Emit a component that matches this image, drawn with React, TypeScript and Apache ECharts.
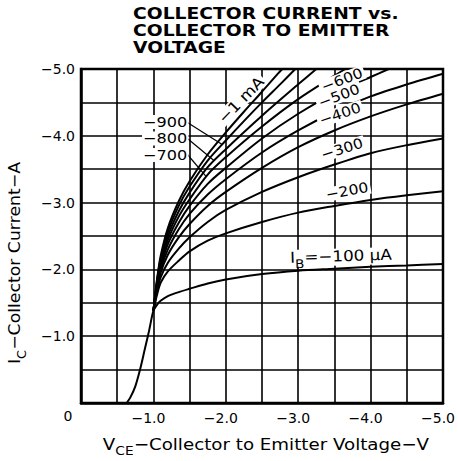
import React, { useEffect, useRef } from 'react';
import * as echarts from 'echarts';

// Title and axis texts
const titleLines = ['COLLECTOR CURRENT vs.', 'COLLECTOR TO EMITTER', 'VOLTAGE'];
const xTitle = { main: 'V', sub: 'CE', rest: '−Collector to Emitter Voltage−V' };
const yTitle = { main: 'I', sub: 'C', rest: '−Collector Current−A' };
const originLabel = '0';

// Axis ranges (volts / amperes, negative values)
const vMin = -5;
const iMin = -5;
const gridStep = 0.5;

// Collector characteristics: [V_CE, I_C]
const toe: number[][] = [[-0.63, 0], [-0.68, -0.08], [-0.75, -0.25], [-0.82, -0.52], [-0.88, -0.8], [-0.94, -1.08], [-1.0, -1.38]];
const ib100: number[][] = [[-1.0, -1.38], [-1.05, -1.47], [-1.1, -1.53], [-1.2, -1.6], [-1.35, -1.66], [-1.5, -1.71], [-1.75, -1.79], [-2.0, -1.85], [-2.5, -1.93], [-3.0, -1.98], [-3.5, -2.01], [-4.0, -2.04], [-4.5, -2.06], [-5.0, -2.08]];
const ib200: number[][] = [[-1.0, -1.38], [-1.05, -1.62], [-1.1, -1.8], [-1.2, -1.97], [-1.35, -2.13], [-1.5, -2.27], [-1.75, -2.43], [-2.0, -2.54], [-2.5, -2.71], [-3.0, -2.85], [-3.5, -2.95], [-4.0, -3.04], [-4.5, -3.11], [-5.0, -3.17]];
const ib300: number[][] = [[-1.0, -1.38], [-1.05, -1.67], [-1.1, -1.88], [-1.2, -2.1], [-1.35, -2.31], [-1.5, -2.48], [-1.75, -2.71], [-2.0, -2.89], [-2.5, -3.16], [-3.0, -3.38], [-3.5, -3.57], [-4.0, -3.74], [-4.5, -3.86], [-5.0, -3.96]];
const ib400: number[][] = [[-1.0, -1.38], [-1.05, -1.71], [-1.1, -1.95], [-1.2, -2.22], [-1.35, -2.48], [-1.5, -2.68], [-1.75, -2.95], [-2.0, -3.16], [-2.5, -3.52], [-3.0, -3.83], [-3.5, -4.08], [-4.0, -4.29], [-4.5, -4.47], [-5.0, -4.63]];
const ib500: number[][] = [[-1.0, -1.38], [-1.05, -1.74], [-1.1, -2.0], [-1.2, -2.3], [-1.35, -2.6], [-1.5, -2.83], [-1.75, -3.12], [-2.0, -3.35], [-2.5, -3.75], [-3.0, -4.08], [-3.5, -4.36], [-4.0, -4.59], [-4.5, -4.77], [-5.0, -4.93]];
const ib600: number[][] = [[-1.0, -1.38], [-1.05, -1.77], [-1.1, -2.04], [-1.2, -2.38], [-1.35, -2.7], [-1.5, -2.95], [-1.75, -3.28], [-2.0, -3.52], [-2.5, -3.96], [-3.0, -4.33], [-3.5, -4.64], [-4.0, -4.88], [-4.25, -5.0]];
const ib700: number[][] = [[-1.0, -1.38], [-1.05, -1.79], [-1.1, -2.08], [-1.2, -2.44], [-1.35, -2.79], [-1.5, -3.05], [-1.75, -3.42], [-2.0, -3.68], [-2.5, -4.14], [-3.0, -4.55], [-3.5, -4.9], [-3.65, -5.0]];
const ib800: number[][] = [[-1.0, -1.38], [-1.05, -1.81], [-1.1, -2.12], [-1.2, -2.5], [-1.35, -2.87], [-1.5, -3.15], [-1.75, -3.53], [-2.0, -3.8], [-2.5, -4.3], [-3.0, -4.77], [-3.25, -5.0]];
const ib900: number[][] = [[-1.0, -1.38], [-1.05, -1.83], [-1.1, -2.16], [-1.2, -2.56], [-1.35, -2.95], [-1.5, -3.24], [-1.75, -3.63], [-2.0, -3.93], [-2.25, -4.22], [-2.5, -4.5], [-2.75, -4.77], [-2.96, -5.0]];
const ib1000: number[][] = [[-1.0, -1.38], [-1.05, -1.85], [-1.1, -2.2], [-1.2, -2.62], [-1.35, -3.02], [-1.5, -3.32], [-1.75, -3.72], [-2.0, -4.05], [-2.25, -4.36], [-2.5, -4.66], [-2.72, -4.93], [-2.78, -5.0]];

// Curve labels
const curveLabelTexts = ['−1 mA', '−600', '−500', '−400', '−300', '−200'];
const leaderLabelTexts = ['−900', '−800', '−700'];
const ib100Label = { main: 'I', sub: 'B', rest: '=−100 μA' };

// Leader lines: label anchor [V, I] and the voltage where each touches its curve
const leaderStarts: number[][] = [[-1.47, -4.2], [-1.47, -3.96], [-1.47, -3.72]];
const leaderEndV = [-1.95, -1.84, -1.73];

const FONT = 'DejaVu Sans';

function interp(curve: number[][], v: number): number {
  for (let i = 0; i < curve.length - 1; i++) {
    const [v0, i0] = curve[i];
    const [v1, i1] = curve[i + 1];
    if ((v <= v0 && v >= v1) || (v >= v0 && v <= v1)) {
      const t = (v - v0) / (v1 - v0);
      return i0 + t * (i1 - i0);
    }
  }
  return curve[curve.length - 1][1];
}

function tickFormatter(v: number): string {
  const a = Math.abs(v);
  if (a < 1e-9) return '';
  if (Math.abs(a - Math.round(a)) > 1e-6) return '';
  return '−' + a.toFixed(1);
}

function subRich(size: number, subSize: number) {
  return {
    m: { fontFamily: FONT, fontSize: size, lineHeight: size + 2, verticalAlign: 'top', fill: '#000' },
    s: { fontFamily: FONT, fontSize: subSize, lineHeight: subSize, padding: [Math.round(size * 0.55), 0, 0, 0], verticalAlign: 'top', fill: '#000' },
  };
}

export default function App() {
  const ref = useRef<HTMLDivElement>(null);

  useEffect(() => {
    document.body.style.margin = '0';
    if (!ref.current) return;
    const chart = echarts.init(ref.current, undefined, { renderer: 'svg' });

    const lineStyle = { color: '#000', width: 2 };
    const curves = [
      { name: '−100', data: [...toe, ...ib100.slice(1)] },
      { name: '−200', data: ib200 },
      { name: '−300', data: ib300 },
      { name: '−400', data: ib400 },
      { name: '−500', data: ib500 },
      { name: '−600', data: ib600 },
      { name: '−700', data: ib700 },
      { name: '−800', data: ib800 },
      { name: '−900', data: ib900 },
      { name: '−1 mA', data: ib1000 },
    ];
    const leaderCurves = [ib900, ib800, ib700];

    const series: any[] = curves.map((c) => ({
      type: 'line',
      name: c.name,
      data: c.data,
      showSymbol: false,
      smooth: 0.3,
      clip: true,
      lineStyle,
      silent: true,
    }));

    series.push({
      type: 'line',
      name: 'leaders',
      data: [],
      silent: true,
      markLine: {
        silent: true,
        symbol: ['none', 'none'],
        label: { show: false },
        lineStyle: { color: '#000', width: 1.2, type: 'solid' },
        data: leaderStarts.map((s, k) => [
          { coord: s },
          { coord: [leaderEndV[k], interp(leaderCurves[k], leaderEndV[k])] },
        ]),
      },
    });

    const labelStyle = (text: string, size: number) => ({
      text,
      fontFamily: FONT,
      fontSize: size,
      fill: '#000',
      align: 'center',
      verticalAlign: 'middle',
      backgroundColor: '#fff',
      padding: [0, 2],
    });

    const curveLabelPos = [
      { x: 241, y: 100, r: 0.8, size: 15 },
      { x: 342, y: 80, r: 0.36, size: 14 },
      { x: 339, y: 96, r: 0.36, size: 14 },
      { x: 340, y: 114, r: 0.33, size: 14 },
      { x: 342, y: 149, r: 0.3, size: 14 },
      { x: 347, y: 191, r: 0.18, size: 14 },
    ];
    const leaderLabelPos = [122, 138.5, 155];

    const graphic: any[] = [
      ...titleLines.map((t, k) => ({
        type: 'text',
        x: 133,
        y: 13 + k * 17,
        scaleX: 1.17,
        style: { text: t, fontFamily: FONT, fontWeight: 'bold', fontSize: 16, fill: '#000', align: 'left', verticalAlign: 'middle' },
      })),
      {
        type: 'text',
        x: 266,
        y: 445,
        scaleX: 1.14,
        style: {
          text: `{m|${xTitle.main}}{s|${xTitle.sub}}{m|${xTitle.rest}}`,
          rich: subRich(16, 12),
          align: 'center',
          verticalAlign: 'middle',
        },
      },
      {
        type: 'text',
        x: 16,
        y: 263,
        rotation: Math.PI / 2,
        scaleX: 1.08,
        style: {
          text: `{m|${yTitle.main}}{s|${yTitle.sub}}{m|${yTitle.rest}}`,
          rich: subRich(16, 12),
          align: 'center',
          verticalAlign: 'middle',
        },
      },
      {
        type: 'text',
        x: 68,
        y: 416,
        style: { text: originLabel, fontFamily: FONT, fontSize: 14, fill: '#000', align: 'center', verticalAlign: 'middle' },
      },
      ...curveLabelTexts.map((t, k) => ({
        type: 'text',
        x: curveLabelPos[k].x,
        y: curveLabelPos[k].y,
        rotation: curveLabelPos[k].r,
        scaleX: 1.12,
        z: 10,
        style: labelStyle(t, curveLabelPos[k].size),
      })),
      ...leaderLabelTexts.map((t, k) => ({
        type: 'text',
        x: 142,
        y: leaderLabelPos[k],
        scaleX: 1.15,
        z: 10,
        style: { ...labelStyle(t, 14), align: 'left', padding: [0, 1] },
      })),
      {
        type: 'text',
        x: 341,
        y: 257,
        rotation: 0.03,
        scaleX: 1.12,
        z: 10,
        style: {
          text: `{m|${ib100Label.main}}{s|${ib100Label.sub}}{m|${ib100Label.rest}}`,
          rich: {
            m: { fontFamily: FONT, fontSize: 15, lineHeight: 17, verticalAlign: 'top', fill: '#000' },
            s: { fontFamily: FONT, fontSize: 12, lineHeight: 12, padding: [8, 0, 0, 0], verticalAlign: 'top', fill: '#000' },
          },
          align: 'center',
          verticalAlign: 'middle',
          backgroundColor: '#fff',
          padding: [0, 2],
        },
      },
    ];

    const axisCommon = {
      type: 'value',
      min: vMin,
      max: 0,
      interval: gridStep,
      inverse: true,
      axisTick: { show: false },
      axisLine: { show: true, lineStyle: { color: '#000', width: 2.5 } },
      splitLine: { show: true, lineStyle: { color: '#000', width: 1.6 } },
    };

    chart.setOption({
      animation: false,
      backgroundColor: '#fff',
      grid: { left: 81, top: 69, width: 363, height: 334, show: true, borderColor: '#000', borderWidth: 2.5, containLabel: false },
      xAxis: {
        ...axisCommon,
        position: 'bottom',
        axisLabel: {
          formatter: tickFormatter,
          fontFamily: FONT,
          fontSize: 14,
          color: '#000',
          margin: 8,
          padding: [0, 10, 0, 0],
          showMinLabel: true,
          showMaxLabel: true,
          hideOverlap: false,
        },
      },
      yAxis: {
        ...axisCommon,
        min: iMin,
        position: 'left',
        axisLabel: {
          formatter: tickFormatter,
          fontFamily: FONT,
          fontSize: 14,
          color: '#000',
          margin: 6,
          showMinLabel: true,
          showMaxLabel: true,
          hideOverlap: false,
        },
      },
      series,
      graphic,
    });

    return () => chart.dispose();
  }, []);

  return <div ref={ref} style={{ width: 458, height: 461 }} />;
}
